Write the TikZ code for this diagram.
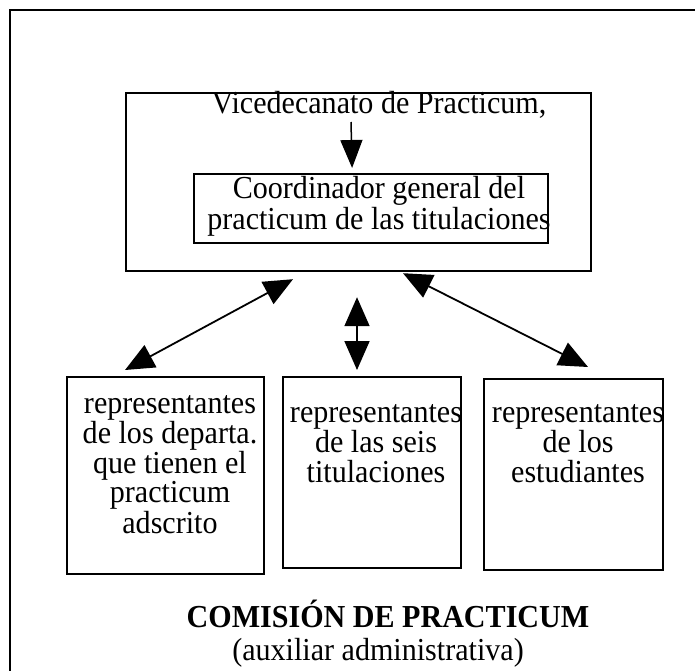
\documentclass[tikz,border=0pt]{standalone}
\usepackage{fontspec}
\setmainfont[FakeStretch=0.94]{Liberation Serif}
\usetikzlibrary{arrows.meta,calc}
\begin{document}
\begin{tikzpicture}[x=1pt,y=-1pt,
  box/.style={draw,line width=2.2pt,inner sep=0pt,anchor=north west},
  txt/.style={font=\fontsize{32}{29}\selectfont,align=center,inner sep=0pt,anchor=base},
  conn/.style={line width=1.8pt,{Triangle[length=29pt,width=25pt]}-{Triangle[length=29pt,width=25pt]}},
  ]
\clip (0,0) rectangle (695,670);
% outer frame (right and bottom edges lie outside the picture)
\draw[line width=2.5pt] (10,690) -- (10,10) -- (710,10);

% boxes
\node[box,minimum width=465pt,minimum height=178pt] (top) at (125,92) {};
\node[box,minimum width=354pt,minimum height=69pt] (coordbox) at (193,173) {};
\node[box,minimum width=197pt,minimum height=197pt] (left) at (66,376) {};
\node[box,minimum width=178pt,minimum height=191pt] (mid) at (282,376) {};
\node[box,minimum width=179pt,minimum height=191pt] (right) at (483,378) {};

% texts (anchor base = baseline of the last line)
\node[txt] (vice) at (379,113) {Vicedecanato de Practicum,};
\node[txt,font=\fontsize{32}{27}\selectfont] (coord) at (379,229) {Coordinador general del\\practicum de las titulaciones};
\node[txt] (ltext) at (170,533) {representantes\\de los departa.\\que tienen el\\practicum\\adscrito};
\node[txt,font=\fontsize{32}{30}\selectfont] (mtext) at (376,482) {representantes\\de las seis\\titulaciones};
\node[txt,font=\fontsize{32}{30}\selectfont] (rtext) at (578,482) {representantes\\de los\\estudiantes};
\node[txt,font=\fontsize{32}{30}\selectfont\bfseries] (title) at (388,627) {COMISIÓN DE PRACTICUM};
\node[txt] (sub) at (378,660) {(auxiliar administrativa)};

% connectors
\draw[line width=1.5pt,-{Triangle[length=28pt,width=22pt]}]
  ($(vice.base)+(-28,9)$) -- ($(coordbox.north)+(-19,-5)$);
\draw[conn] ($(top.south west)+(168,7)$) -- ($(left.north west)+(59,-6)$);
\draw[conn] ($(top.south west)+(232,25)$) -- ($(mid.north west)+(75,-6)$);
\draw[conn] ($(top.south west)+(278,1)$) -- ($(right.north west)+(105,-11)$);
\end{tikzpicture}
\end{document}
